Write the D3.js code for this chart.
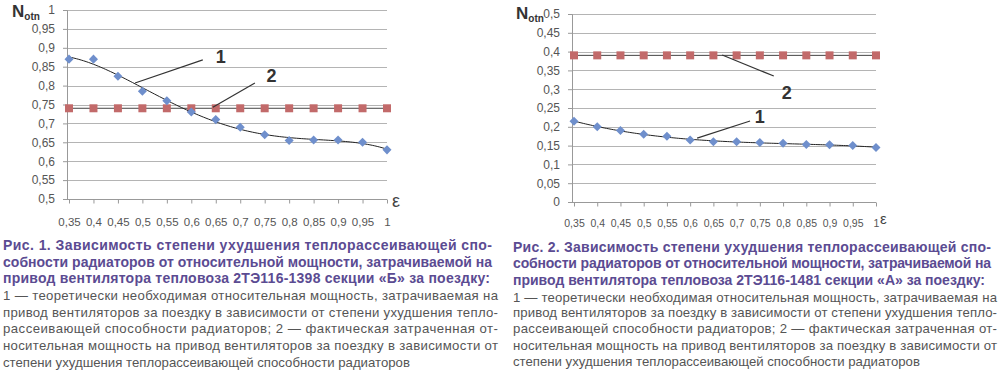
<!DOCTYPE html>
<html>
<head>
<meta charset="utf-8">
<script src="https://cdn.jsdelivr.net/npm/d3@7"></script>
<style>
  body { margin: 0; background: #fff; }
  svg { font-family: "Liberation Sans", Arial, sans-serif; }
  .grid line { stroke: #b4b4b4; stroke-width: 1; }
  .tick-label { fill: #555; }
  .cap-bold { fill: #5b4b92; font-weight: bold; font-size: 14px; }
  .cap-norm { fill: #555; font-size: 13.2px; }
  .num { fill: #333; font-weight: bold; font-size: 18px; }
</style>
</head>
<body>
<div id="chart"></div>
<script>
// ε categories (shared by both figures)
const eps = [0.35, 0.4, 0.45, 0.5, 0.55, 0.6, 0.65, 0.7, 0.75, 0.8, 0.85, 0.9, 0.95, 1];

// Fig. 1 (2ТЭ116-1398 section Б)
const fig1Theory = [0.87, 0.87, 0.825, 0.785, 0.76, 0.73, 0.71, 0.69, 0.67, 0.655, 0.656, 0.656, 0.65, 0.63];
const fig1Actual = [0.74, 0.74, 0.74, 0.74, 0.74, 0.74, 0.74, 0.74, 0.74, 0.74, 0.74, 0.74, 0.74, 0.74];
const fig1YTicks = [0.5, 0.55, 0.6, 0.65, 0.7, 0.75, 0.8, 0.85, 0.9, 0.95, 1];

// Fig. 2 (2ТЭ116-1481 section А)
const fig2Theory = [0.215, 0.20, 0.19, 0.18, 0.175, 0.165, 0.16, 0.16, 0.158, 0.156, 0.153, 0.152, 0.15, 0.145];
const fig2Actual = [0.39, 0.39, 0.39, 0.39, 0.39, 0.39, 0.39, 0.39, 0.39, 0.39, 0.39, 0.39, 0.39, 0.39];
const fig2YTicks = [0, 0.05, 0.1, 0.15, 0.2, 0.25, 0.3, 0.35, 0.4, 0.45, 0.5];

// callouts "1" / "2" in data units: leader from [x1,y1] to [x2,y2], label at [lx,ly]
const fig1Callouts = [
  { text: "1", x1: 0.485, y1: 0.807, x2: 0.6235, y2: 0.868, lx: 0.66, ly: 0.876 },
  { text: "2", x1: 0.644, y1: 0.743, x2: 0.73, y2: 0.807, lx: 0.764, ly: 0.825 }
];
const fig2Callouts = [
  { text: "1", x1: 0.615, y1: 0.17, x2: 0.729, y2: 0.2154, lx: 0.75, ly: 0.226 },
  { text: "2", x1: 0.669, y1: 0.391, x2: 0.78, y2: 0.335, lx: 0.808, ly: 0.29 }
];

const fig1Bold = [
  "Рис. 1. Зависимость степени ухудшения теплорассеивающей спо-",
  "собности радиаторов от относительной мощности, затрачиваемой на",
  "привод вентилятора тепловоза 2ТЭ116-1398 секции «Б» за поездку:"
];
const fig2Bold = [
  "Рис. 2. Зависимость степени ухудшения теплорассеивающей спо-",
  "собности радиаторов от относительной мощности, затрачиваемой на",
  "привод вентилятора тепловоза 2ТЭ116-1481 секции «А» за поездку:"
];
const captionText = [
  "1 — теоретически необходимая относительная мощность, затрачиваемая на",
  "привод вентиляторов за поездку в зависимости от степени ухудшения тепло-",
  "рассеивающей способности радиаторов; 2 — фактическая затраченная от-",
  "носительная мощность на привод вентиляторов за поездку в зависимости от",
  "степени ухудшения теплорассеивающей способности радиаторов"
];

const fmt = v => String(+v.toFixed(2)).replace(".", ",");

// least squares polynomial (for the trend line)
function polyfit(xs, ys, deg) {
  const n = deg + 1;
  const A = d3.range(n).map(() => new Array(n + 1).fill(0));
  xs.forEach((x, k) => {
    for (let i = 0; i < n; i++) {
      for (let j = 0; j < n; j++) A[i][j] += Math.pow(x, i + j);
      A[i][n] += ys[k] * Math.pow(x, i);
    }
  });
  for (let i = 0; i < n; i++) {
    let p = i;
    for (let r = i + 1; r < n; r++) if (Math.abs(A[r][i]) > Math.abs(A[p][i])) p = r;
    [A[i], A[p]] = [A[p], A[i]];
    for (let r = 0; r < n; r++) {
      if (r === i) continue;
      const f = A[r][i] / A[i][i];
      for (let c = i; c <= n; c++) A[r][c] -= f * A[i][c];
    }
  }
  const coef = A.map((row, i) => row[n] / row[i]);
  return x => coef.reduce((s, c, i) => s + c * Math.pow(x, i), 0);
}

const svg = d3.select("#chart").append("svg")
  .attr("width", 1000)
  .attr("height", 375);
svg.append("rect").attr("width", 1000).attr("height", 375).attr("fill", "#fff");

function drawChart(o) {
  const x = d3.scaleLinear().domain([0.35, 1]).range(o.xRange);
  const y = d3.scaleLinear().domain(o.yDomain).range(o.yRange);
  const g = svg.append("g");

  // horizontal gridlines
  g.append("g").attr("class", "grid")
    .selectAll("line").data(o.yTicks.slice(1)).join("line")
    .attr("x1", o.xRange[0] - 2).attr("x2", o.xRange[1])
    .attr("y1", d => Math.round(y(d)) + 0.5).attr("y2", d => Math.round(y(d)) + 0.5);

  // y axis
  const ya = g.append("g")
    .attr("transform", `translate(${o.xRange[0] - 2},0)`)
    .call(d3.axisLeft(y).tickValues(o.yTicks).tickFormat(fmt).tickSize(4).tickPadding(8));
  ya.select(".domain").attr("stroke", "#999");
  ya.selectAll(".tick line").attr("stroke", "#999");
  ya.selectAll(".tick text").attr("class", "tick-label").attr("font-size", 12)
    .attr("font-family", "Liberation Sans, Arial, sans-serif");

  // x axis
  const xa = g.append("g")
    .attr("transform", `translate(0,${Math.round(y(o.yDomain[0])) + 0.5})`)
    .call(d3.axisBottom(x).tickValues(eps).tickFormat(fmt).tickSize(4).tickPadding(o.xPad));
  xa.select(".domain").attr("stroke", "#999").attr("d", `M${o.xRange[0] - 2},0H${o.xRange[1]}`);
  xa.selectAll(".tick line").attr("stroke", "#999");
  xa.selectAll(".tick text").attr("class", "tick-label").attr("font-size", o.xFont)
    .attr("font-family", "Liberation Sans, Arial, sans-serif");

  // series 2 line + squares
  const line = d3.line().x((d, i) => x(eps[i])).y(d => y(d));
  g.append("path").datum(o.actual).attr("d", line)
    .attr("fill", "none").attr("stroke", "#444").attr("stroke-width", 1);
  g.selectAll(".sq").data(o.actual).join("path")
    .attr("transform", (d, i) => `translate(${x(eps[i])},${y(d)})`)
    .attr("d", d3.symbol(d3.symbolSquare, 64))
    .attr("fill", "#c26a6a");

  // series 1 trend + diamonds
  const f = polyfit(eps, o.theory, o.deg);
  const pts = d3.range(0.35, 1.0001, 0.005).map(v => [x(v), y(f(v))]);
  g.append("path")
    .attr("d", d3.line()(pts))
    .attr("fill", "none").attr("stroke", "#222").attr("stroke-width", 1);
  g.selectAll(".dm").data(o.theory).join("path")
    .attr("transform", (d, i) => `translate(${x(eps[i])},${y(d)})`)
    .attr("d", d3.symbol(d3.symbolDiamond2, 52))
    .attr("fill", "#6f8fcc");

  // callouts
  o.callouts.forEach(c => {
    g.append("line")
      .attr("x1", x(c.x1)).attr("y1", y(c.y1)).attr("x2", x(c.x2)).attr("y2", y(c.y2))
      .attr("stroke", "#333").attr("stroke-width", 1.2);
    g.append("text").attr("class", "num")
      .attr("x", x(c.lx)).attr("y", y(c.ly) + 6)
      .attr("text-anchor", "middle").text(c.text);
  });

  // axis titles
  const t = g.append("text").attr("x", o.nPos[0]).attr("y", o.nPos[1])
    .attr("fill", "#333").attr("font-weight", "bold");
  t.append("tspan").attr("font-size", 17).text("N");
  t.append("tspan").attr("font-size", 10).attr("dy", 3).text("otn");
  g.append("text").attr("x", o.ePos[0]).attr("y", o.ePos[1])
    .attr("fill", "#444").attr("font-size", o.eFont).text("ε");
}

drawChart({
  xRange: [69, 387], yDomain: [0.5, 1], yRange: [199, 10], yTicks: fig1YTicks,
  theory: fig1Theory, actual: fig1Actual, callouts: fig1Callouts, deg: 4,
  xPad: 14, xFont: 11.5, nPos: [12, 17], ePos: [392, 207], eFont: 18
});
drawChart({
  xRange: [574, 876], yDomain: [0, 0.5], yRange: [202, 14], yTicks: fig2YTicks,
  theory: fig2Theory, actual: fig2Actual, callouts: fig2Callouts, deg: 3,
  xPad: 13, xFont: 10.5, nPos: [516, 19], ePos: [880, 224], eFont: 15
});

// captions
function caption(x0, x1, boldY, normY, bold, bold3) {
  const width = x1 - x0;
  bold.forEach((s, i) => {
    svg.append("text").attr("class", "cap-bold")
      .attr("x", x0).attr("y", boldY[i]).text(s)
      .attr("textLength", i < 2 ? width : bold3).attr("lengthAdjust", "spacing");
  });
  captionText.forEach((s, i) => {
    const tx = svg.append("text").attr("class", "cap-norm")
      .attr("x", x0).attr("y", normY[i]).text(s);
    if (i < captionText.length - 1) tx.attr("textLength", width + 6).attr("lengthAdjust", "spacing");
  });
}
caption(3, 492, [250, 267, 283], [300, 317, 333, 350, 367], fig1Bold, 487);
caption(513, 991, [252, 268, 285], [302, 317, 333, 350, 366], fig2Bold, 472);
</script>
</body>
</html>
